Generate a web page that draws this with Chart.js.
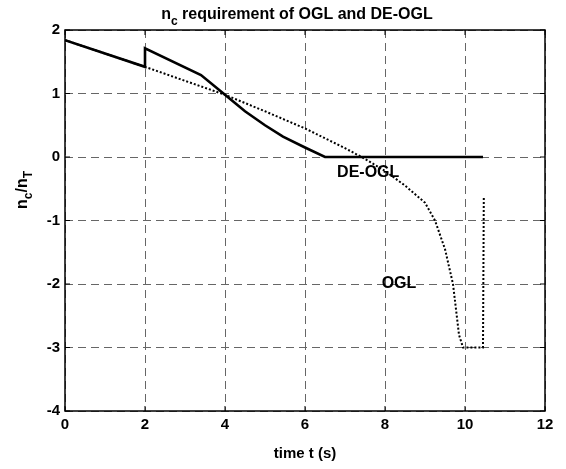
<!DOCTYPE html>
<html>
<head>
<meta charset="utf-8">
<script src="https://cdn.jsdelivr.net/npm/chart.js@4"></script>
<style>
  html, body { margin: 0; padding: 0; background: #fff; }
  #wrap { width: 566px; height: 469px; }
</style>
</head>
<body>
<div id="wrap"><canvas id="nc"></canvas></div>
<script>
// DE-OGL (solid)
const deTime = [0, 2, 2, 3.4, 4, 4.5, 5, 5.45, 6, 6.5, 10.45];
const deVal  = [1.84, 1.42, 1.71, 1.29, 0.98, 0.72, 0.5, 0.32, 0.15, 0, 0];
// OGL (dotted)
const oglTime = [0, 2, 3, 4, 5, 6, 7, 7.5, 8, 8.5, 9, 9.25, 9.5, 9.7, 9.85, 9.95, 10.45, 10.47];
const oglVal  = [1.84, 1.42, 1.2, 0.98, 0.72, 0.45, 0.14, -0.03, -0.22, -0.45, -0.72, -1.0, -1.45, -2.0, -2.8, -3.0, -3.0, -0.62];
const xTicks = [0, 2, 4, 6, 8, 10, 12];
const yTicks = [-4, -3, -2, -1, 0, 1, 2];

const FONT = 'Arial, "Liberation Sans", sans-serif';
const toPts = (xs, ys) => xs.map((x, i) => ({ x, y: ys[i] }));

// draws text pieces [text, size, baselineShift] left to right, centred on 0
function drawParts(ctx, parts, y) {
  let total = 0;
  parts.forEach(p => { ctx.font = 'bold ' + p[1] + 'px ' + FONT; total += ctx.measureText(p[0]).width; });
  let px = -total / 2;
  ctx.textAlign = 'left';
  parts.forEach(p => {
    ctx.font = 'bold ' + p[1] + 'px ' + FONT;
    ctx.fillText(p[0], px, y + p[2]);
    px += ctx.measureText(p[0]).width;
  });
}

const frame = {
  id: 'frame',
  afterDraw(chart) {
    const { ctx, chartArea: a, scales } = chart;
    ctx.save();
    ctx.strokeStyle = '#000';
    ctx.lineWidth = 1.5;
    ctx.strokeRect(a.left, a.top, a.right - a.left, a.bottom - a.top);
    ctx.lineWidth = 1;
    xTicks.forEach(t => {
      const px = scales.x.getPixelForValue(t);
      ctx.beginPath();
      ctx.moveTo(px, a.bottom); ctx.lineTo(px, a.bottom - 5);
      ctx.moveTo(px, a.top); ctx.lineTo(px, a.top + 5);
      ctx.stroke();
    });
    yTicks.forEach(t => {
      const py = scales.y.getPixelForValue(t);
      ctx.beginPath();
      ctx.moveTo(a.left, py); ctx.lineTo(a.left + 5, py);
      ctx.moveTo(a.right, py); ctx.lineTo(a.right - 5, py);
      ctx.stroke();
    });
    ctx.fillStyle = '#000';
    ctx.textBaseline = 'alphabetic';

    // title
    ctx.save();
    ctx.translate(297, 0);
    drawParts(ctx, [['n', 16, 0], ['c', 12, 6], [' requirement of OGL and DE-OGL', 16, 0]], 19);
    ctx.restore();

    // x label
    ctx.font = 'bold 15px ' + FONT;
    ctx.textAlign = 'center';
    ctx.fillText('time t (s)', 305, 458);

    // y label
    ctx.save();
    ctx.translate(27, 190);
    ctx.rotate(-Math.PI / 2);
    drawParts(ctx, [['n', 16, 0], ['c', 12, 5], ['/n', 16, 0], ['T', 12, 5]], 0);
    ctx.restore();

    // curve labels
    ctx.font = 'bold 16px ' + FONT;
    ctx.textAlign = 'center';
    ctx.textBaseline = 'middle';
    ctx.fillText('DE-OGL', scales.x.getPixelForValue(7.58), scales.y.getPixelForValue(-0.24));
    ctx.fillText('OGL', scales.x.getPixelForValue(8.35), scales.y.getPixelForValue(-1.99));
    ctx.restore();
  }
};

new Chart(document.getElementById('nc'), {
  type: 'line',
  data: {
    datasets: [
      {
        label: 'OGL',
        data: toPts(oglTime, oglVal),
        borderColor: '#000',
        borderWidth: 2,
        borderDash: [2, 2],
        pointRadius: 0,
        tension: 0
      },
      {
        label: 'DE-OGL',
        data: toPts(deTime, deVal),
        borderColor: '#000',
        borderWidth: 2.6,
        pointRadius: 0,
        tension: 0
      }
    ]
  },
  options: {
    responsive: true,
    maintainAspectRatio: false,
    animation: false,
    layout: { padding: { left: 0, right: 21, top: 30, bottom: 0 } },
    plugins: { legend: { display: false }, tooltip: { enabled: false } },
    scales: {
      x: {
        type: 'linear',
        min: 0, max: 12,
        afterBuildTicks: s => { s.ticks = xTicks.map(v => ({ value: v })); },
        afterFit: s => { s.height = 58; },
        grid: { color: '#666', drawTicks: false, lineWidth: 1 },
        border: { display: false, dash: [8, 5] },
        ticks: { color: '#000', font: { family: FONT, size: 15, weight: 'bold' }, padding: 5, maxRotation: 0 }
      },
      y: {
        min: -4, max: 2,
        afterBuildTicks: s => { s.ticks = yTicks.map(v => ({ value: v })); },
        afterFit: s => { s.width = 65; },
        grid: { color: '#666', drawTicks: false, lineWidth: 1 },
        border: { display: false, dash: [8, 5] },
        ticks: { color: '#000', font: { family: FONT, size: 15, weight: 'bold' }, padding: 5 }
      }
    }
  },
  plugins: [frame]
});
</script>
</body>
</html>
